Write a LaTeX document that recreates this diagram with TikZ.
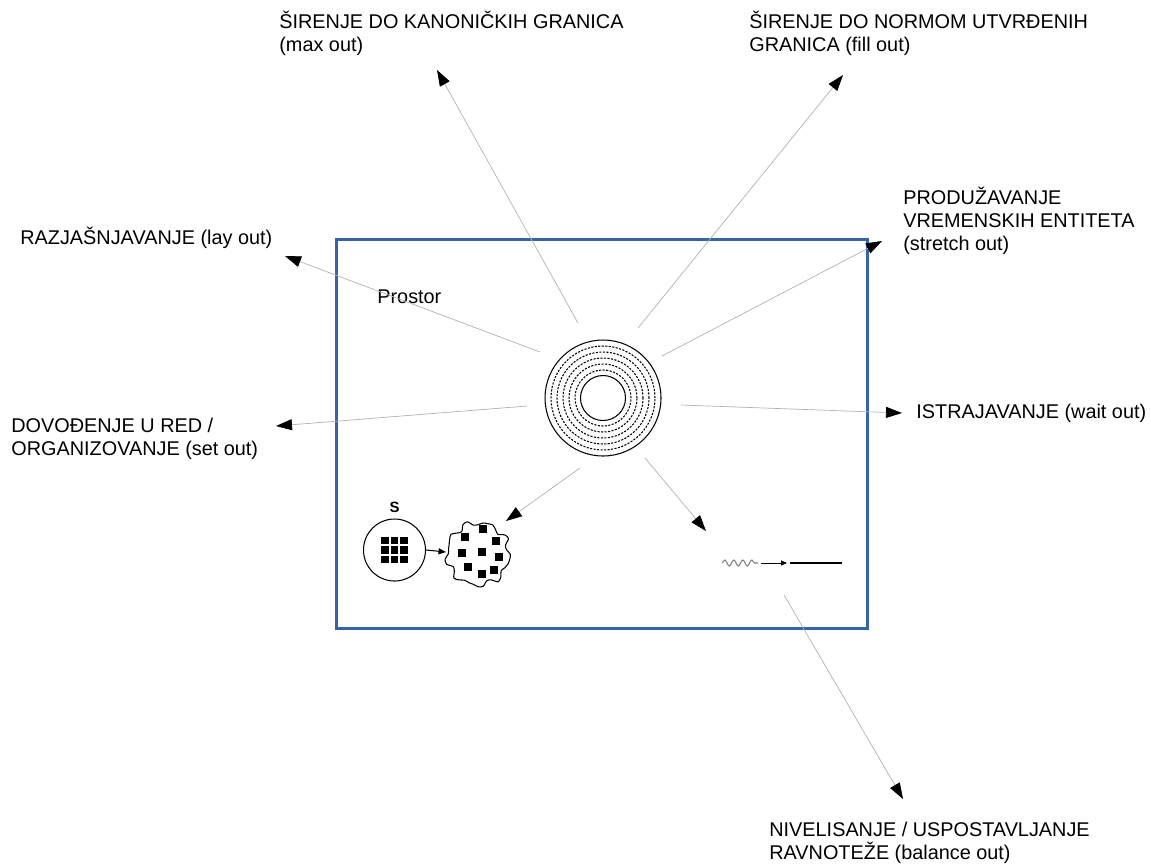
\documentclass[tikz,border=0pt]{standalone}
\usepackage{fontspec}
\setmainfont{Liberation Sans}
\usetikzlibrary{arrows.meta, positioning, calc, decorations.pathmorphing}
\definecolor{prostorblue}{RGB}{52,101,164}
\definecolor{raygray}{RGB}{178,178,178}
\tikzset{
    outlbl/.style={anchor=base west, inner sep=0pt, align=left, font=\fontsize{11.3}{13}\selectfont},
    rayarrow/.style={-{Triangle[length=3.2mm,width=2.2mm,color=black]}, draw=raygray, line width=0.4pt},
    ringline/.style={draw=black, line width=0.6pt},
    dashring/.style={draw=black, line width=0.6pt, dash pattern=on 1.2pt off 0.8pt},
    smallarrow/.style={-{Triangle[length=1.5mm,width=1.2mm]}, draw=black, line width=0.6pt},
    wavyline/.style={draw=gray, line width=0.6pt, decorate, decoration={snake, amplitude=0.06cm, segment length=0.18cm}}
}

\begin{document}
\begin{tikzpicture}[x=0.02cm, y=-0.02cm]
    \useasboundingbox (0,0) rectangle (1151,863);

    % Space frame
    \draw[prostorblue, line width=1.7pt] (336,239) rectangle (867,628);
    \node[outlbl] (prostor) at (377,303) {Prostor};

    % Central ring
    \node[ringline, circle, minimum size=2.32cm, inner sep=0pt] (outer) at (603,398) {};
    \node[ringline, circle, minimum size=0.9cm, inner sep=0pt] (inner) at (603,398) {};
    \foreach \r in {0.56,0.68,0.80,0.92,1.04}
        \draw[dashring] (outer.center) circle[radius=\r cm];

    % Set S and scattered set
    \node[ringline, circle, minimum size=1.24cm, inner sep=0pt] (sset) at (394.5,550) {};
    \node[font=\bfseries\fontsize{8.5}{10}\selectfont, inner sep=0pt, above=0.1cm of sset] (slbl) {S};
    \foreach \i in {-1,0,1}
        \foreach \j in {-1,0,1}
            \fill ($(sset.center)+(9.5*\i,9.5*\j)$) +(-3.8,-3.8) rectangle +(3.8,3.8);
    \coordinate (blob) at (478,554);
    \draw[ringline] plot[smooth cycle, domain=0:351, samples=40, variable=\t]
        ({478+(31+2.4*sin(9*\t)+1.4*cos(13*\t+30))*cos(\t)}, {554+(31+2.4*sin(9*\t)+1.4*cos(13*\t+30))*sin(\t)});
    \foreach \px/\py in {465/537, 483/529, 496/541, 462/553, 482/552, 499/557, 468/567, 482/574, 494/570}
        \fill (\px,\py) +(-3.6,-3.6) rectangle +(3.6,3.6);
    \coordinate (blobW) at (446,552);
    \draw[smallarrow] (sset.east) -- (blobW);

    % Wave to line
    \coordinate (waveA) at (722,563);
    \coordinate (waveB) at (758,563);
    \coordinate (flatA) at (761,563);
    \coordinate (flatB) at (787,563);
    \coordinate (levelA) at (790,563);
    \coordinate (levelB) at (842,563);
    \draw[wavyline] (waveA) -- (waveB);
    \draw[smallarrow, line width=0.5pt, -{Triangle[length=1.2mm,width=1mm]}] (flatA) -- (flatB);
    \draw[black, line width=0.8pt] (levelA) -- (levelB);

    % Labels
    \node[outlbl] (maxout) at (279,51) {ŠIRENJE DO KANONIČKIH GRANICA\\(max out)};
    \node[outlbl] (fillout) at (749,51) {ŠIRENJE DO NORMOM UTVRĐENIH\\GRANICA (fill out)};
    \node[outlbl] (stretchout) at (903,250) {PRODUŽAVANJE\\VREMENSKIH ENTITETA\\(stretch out)};
    \node[outlbl] (layout) at (20,244) {RAZJAŠNJAVANJE (lay out)};
    \node[outlbl] (setout) at (11,455) {DOVOĐENJE U RED /\\ORGANIZOVANJE (set out)};
    \node[outlbl] (waitout) at (916,418) {ISTRAJAVANJE (wait out)};
    \node[outlbl] (balanceout) at (769,859) {NIVELISANJE / USPOSTAVLJANJE\\RAVNOTEŽE (balance out)};

    % Ray ends
    \coordinate (layS) at (540,352);   \coordinate (layE) at (285,256);
    \coordinate (maxS) at (578,323);   \coordinate (maxE) at (437,70);
    \coordinate (fillS) at (638,328);  \coordinate (fillE) at (843,75);
    \coordinate (strS) at (662,356);   \coordinate (strE) at (882,241);
    \coordinate (waitS) at (681,405);  \coordinate (waitE) at (902,413);
    \coordinate (setS) at (527,406);   \coordinate (setE) at (276,426);
    \coordinate (scatS) at (580,468);  \coordinate (scatE) at (506,521);
    \coordinate (wavS) at (645,458);   \coordinate (wavE) at (706,531);
    \coordinate (balS) at (784,595);   \coordinate (balE) at (903,799);

    % Rays
    \foreach \a in {lay, max, fill, str, wait, set, scat, wav, bal}
        \draw[rayarrow] (\a S) -- (\a E);
\end{tikzpicture}
\end{document}
